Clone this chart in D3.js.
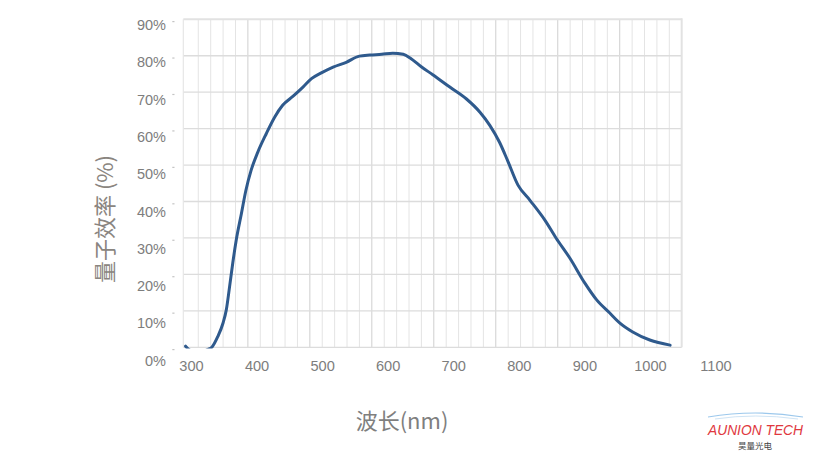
<!DOCTYPE html>
<html><head><meta charset="utf-8">
<script src="https://cdn.jsdelivr.net/npm/d3@7/dist/d3.min.js"></script>
<style>html,body{margin:0;padding:0;background:#fff;} svg{display:block;}</style>
</head><body>
<script>
// ---- data ----
const wavelength = [291,296,310,325,331,340,348,353,358,363,368,376,383,391,401,414,427,439,455,470,483,498,516,536,556,572,590,607,623,635,651,668,694,719,740,755,770,782,798,816,839,856,877,900,918,938,953,973,999,1030];
const qe = [0.3,-0.6,-1.5,-0.6,0,2.9,6.6,10.2,16.5,23.2,29.2,36.6,43.1,48.6,53.5,58.6,63.2,66.4,68.9,71.4,73.7,75.3,76.9,78.2,79.9,80.2,80.4,80.7,80.4,79.2,76.9,74.8,71.4,68.2,64.5,60.9,56.2,51.3,44.5,40.4,34.9,30,24.5,17.6,13,9.4,6.7,4.2,2.0,0.6];
const xTickLabels = [300,400,500,600,700,800,900,1000,1100];
const yTickLabels = [0,10,20,30,40,50,60,70,80,90];
const xTitle = "波长(nm)";
const yTitle = "量子效率 (%)";

const W = 816, H = 458;
const svg = d3.select("body").append("svg").attr("width", W).attr("height", H);

// scales
const x = d3.scaleLinear().domain([300, 1100]).range([191.5, 716]);
const y = d3.scaleLinear().domain([0, 90]).range([347.3, 19.3]);
const yLab = d3.scaleLinear().domain([0, 90]).range([365.7, 30]);
const gx = d3.scaleLinear().domain([0, 40]).range([185.9, 681.7]);

// grid
const g = svg.append("g");
d3.range(1, 40).forEach(k => {
  const major = k % 5 === 0;
  g.append("line").attr("x1", gx(k)).attr("x2", gx(k)).attr("y1", y(90)).attr("y2", y(0))
    .attr("stroke", major ? "#cfcfcf" : "#e4e4e4").attr("stroke-width", 1);
});
yTickLabels.forEach(v => {
  g.append("line").attr("x1", 183.3).attr("x2", gx(40)).attr("y1", y(v)).attr("y2", y(v))
    .attr("stroke", v === 90 ? "#e2e2e2" : "#dcdcdc").attr("stroke-width", v === 90 ? 2 : 1.3);
  g.append("line").attr("x1", 172.3).attr("x2", 174.5).attr("y1", y(v) + 2.3).attr("y2", y(v) + 2.3)
    .attr("stroke", "#c4c4c4").attr("stroke-width", 1.2);
});
g.append("line").attr("x1", 183.3).attr("x2", 183.3).attr("y1", y(90)).attr("y2", y(0))
  .attr("stroke", "#e6e6e6").attr("stroke-width", 1.2);
g.append("line").attr("x1", gx(40)).attr("x2", gx(40)).attr("y1", y(90) - 1).attr("y2", y(0))
  .attr("stroke", "#e2e2e2").attr("stroke-width", 2);

// clip
svg.append("clipPath").attr("id", "clip").append("rect")
  .attr("x", 180).attr("y", 10).attr("width", 510).attr("height", y(0) + 1.2 - 10);

const pts = wavelength.map((w, i) => [w, qe[i]]);
const line = d3.line().x(d => x(d[0])).y(d => y(d[1])).curve(d3.curveMonotoneX);
svg.append("path").datum(pts).attr("d", line).attr("clip-path", "url(#clip)")
  .attr("fill", "none").attr("stroke", "#2f5a8d").attr("stroke-width", 3)
  .attr("stroke-linejoin", "round").attr("stroke-linecap", "round");

// tick labels
svg.append("g").selectAll("text").data(xTickLabels).join("text")
  .attr("x", d => x(d)).attr("y", 370.7).attr("text-anchor", "middle")
  .attr("font-family", "'Liberation Sans', Arial, sans-serif").attr("font-size", 14.6)
  .attr("fill", "#7d7d7d").text(d => d);
svg.append("g").selectAll("text").data(yTickLabels).join("text")
  .attr("x", 166).attr("y", d => yLab(d)).attr("text-anchor", "end")
  .attr("font-family", "'Liberation Sans Narrow', 'Arial Narrow', 'Liberation Sans', sans-serif").attr("font-size", 14.5)
  .attr("fill", "#7d7d7d").text(d => d + "%");

// titles
svg.append("text").attr("transform", "translate(113,219) rotate(-90)").attr("text-anchor", "middle")
  .attr("font-family", "'Noto Sans CJK SC', sans-serif").attr("font-size", 22).attr("fill", "#8a8580")
  .text(yTitle);
svg.append("text").attr("x", 402).attr("y", 429).attr("text-anchor", "middle")
  .attr("font-family", "'Noto Sans CJK SC', sans-serif").attr("font-size", 22).attr("fill", "#7f7f7f")
  .text(xTitle);

// logo
const logo = svg.append("g");
logo.append("path").attr("d", "M708,417 Q755,409 803,417").attr("fill", "none").attr("stroke", "#9cc8ec").attr("stroke-width", 1.2);
logo.append("path").attr("d", "M715,419 Q755,413 798,419").attr("fill", "none").attr("stroke", "#cfe4f5").attr("stroke-width", 1);
logo.append("text").attr("x", 708).attr("y", 435).attr("textLength", 95).attr("lengthAdjust", "spacingAndGlyphs")
  .attr("font-family", "'Liberation Sans', Arial, sans-serif").attr("font-style", "italic").attr("font-size", 14.5)
  .attr("fill", "#e0383e").text("AUNION TECH");
logo.append("text").attr("x", 755).attr("y", 449).attr("text-anchor", "middle")
  .attr("font-family", "'Noto Sans CJK SC', sans-serif").attr("font-size", 8.5).attr("fill", "#444")
  .text("昊量光电");
</script>
</body></html>
